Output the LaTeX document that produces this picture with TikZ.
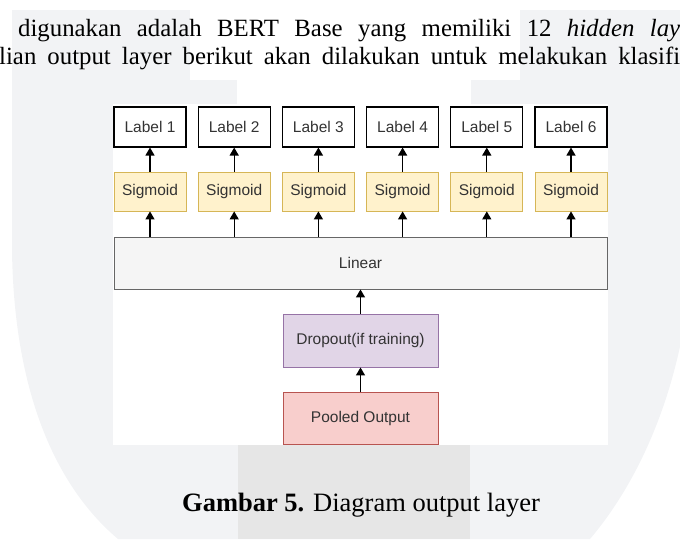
\documentclass[tikz,border=0pt]{standalone}
\usepackage{fontspec}
\setmainfont{Liberation Serif}
\setsansfont{Liberation Sans}
\usetikzlibrary{arrows.meta}
\definecolor{wmgray}{HTML}{F2F3F5}
\definecolor{wmdark}{HTML}{E6E6E6}
\definecolor{sigfill}{HTML}{FFF2CC}
\definecolor{sigline}{HTML}{D6B656}
\definecolor{linfill}{HTML}{F5F5F5}
\definecolor{linline}{HTML}{666666}
\definecolor{dropfill}{HTML}{E1D5E7}
\definecolor{dropline}{HTML}{9673A6}
\definecolor{poolfill}{HTML}{F8CECC}
\definecolor{poolline}{HTML}{B85450}
\definecolor{txtgray}{HTML}{333333}
\tikzset{
  box/.style={draw, inner sep=0pt, text=txtgray,
    font=\sffamily\fontsize{15.5}{18}\selectfont},
  labelbox/.style={box, draw=black, line width=1.1pt, fill=white,
    minimum width=72pt, minimum height=40pt},
  sigbox/.style={box, draw=sigline, line width=0.8pt, fill=sigfill,
    minimum width=72pt, minimum height=39pt},
  linbox/.style={box, draw=linline, line width=0.9pt, fill=linfill,
    minimum width=493pt, minimum height=52pt},
  dropbox/.style={box, draw=dropline, line width=0.9pt, fill=dropfill,
    minimum width=155pt, minimum height=53pt},
  poolbox/.style={box, draw=poolline, line width=0.9pt, fill=poolfill,
    minimum width=155pt, minimum height=52pt},
  arr/.style={draw=black, line width=1.3pt,
    -{Triangle[length=8pt,width=9pt]}},
  bodytext/.style={inner sep=0pt, font=\fontsize{24.8}{29}\selectfont}
}
\begin{document}
\begin{tikzpicture}[x=1pt,y=1pt]
\useasboundingbox (0,0) rectangle (680,-539);
\clip (0,0) rectangle (680,-539);
%watermark
\fill[wmgray] (12,-10) -- (12,-250) .. controls (14,-400) and (60,-490) .. (118,-539)
  -- (590,-539) .. controls (640,-480) and (672,-400) .. (685,-320) -- (685,-10) -- cycle;
\fill[white] (190,-10) rectangle (520,-80);
\fill[white] (237,-80) rectangle (471,-104);
\fill[wmdark] (238,-445) rectangle (470,-539);
\fill[white] (113,-104) rectangle (608,-445);
%teks paragraf
\node[bodytext, anchor=base west] (line1) at (18,-36)
  {\makebox[662pt][s]{digunakan adalah BERT Base yang memiliki 12 \textit{hidden lay}}};
\node[bodytext, anchor=base west] (line2) at (-1,-64)
  {\makebox[681pt][s]{lian output layer berikut akan dilakukan untuk melakukan klasifi}};
%blok diagram
\foreach \i in {1,...,6}{
  \node[labelbox] (lab\i) at (150+84.2*\i-84.2,-127) {Label \i};
  \node[sigbox] (sig\i) at (150+84.2*\i-84.2,-191.5) {Sigmoid};
}
\node[linbox] (linear) at (360.5,-263) {Linear};
\node[dropbox] (dropout) at (360.5,-340.5) {Dropout(if training)};
\node[poolbox] (pooled) at (360.5,-418) {Pooled Output};
%panah
\foreach \i in {1,...,6}{
  \draw[arr] (sig\i) -- (lab\i);
  \draw[arr] (sig\i.south |- linear.north) -- (sig\i);
}
\draw[arr] (dropout) -- (linear);
\draw[arr] (pooled) -- (dropout);
%keterangan
\node[bodytext, anchor=base, font=\fontsize{26.5}{31}\selectfont] (caption) at (361,-511)
  {\textbf{Gambar 5.} Diagram output layer};
\end{tikzpicture}
\end{document}
